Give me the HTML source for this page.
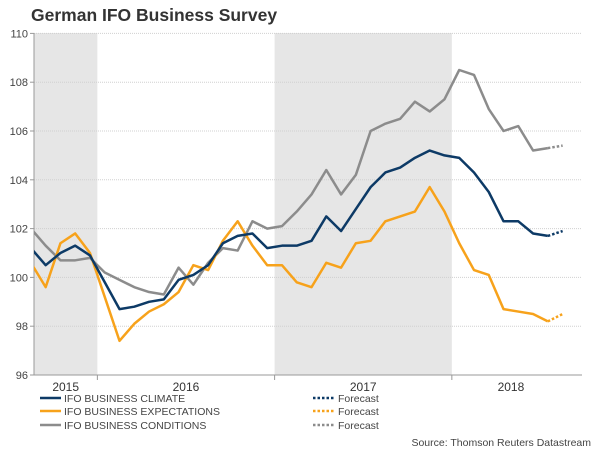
<!DOCTYPE html>
<html><head><meta charset="utf-8"><style>
body{margin:0;background:#fff;font-family:"Liberation Sans",sans-serif;}
svg{display:block}
</style></head><body>
<svg width="600" height="450" xmlns="http://www.w3.org/2000/svg" font-family="Liberation Sans, sans-serif">
<text x="31" y="21" font-size="17.5" font-weight="bold" fill="#333">German IFO Business Survey</text>
<defs><clipPath id="pc"><rect x="34" y="30" width="550" height="346"/></clipPath></defs>
<g id="bands"></g><g id="grid"></g><g id="axes"></g><g id="lines" clip-path="url(#pc)"></g>
<g font-size="10.5" fill="#333">
<line x1="40" y1="398" x2="61" y2="398" stroke="#0d3a66" stroke-width="2.5"/><text x="64" y="402" fill="#444">IFO BUSINESS CLIMATE</text>
<line x1="40" y1="411" x2="61" y2="411" stroke="#f7a21b" stroke-width="2.5"/><text x="64" y="415" fill="#444">IFO BUSINESS EXPECTATIONS</text>
<line x1="40" y1="425" x2="61" y2="425" stroke="#8c8c8c" stroke-width="2.5"/><text x="64" y="429" fill="#444">IFO BUSINESS CONDITIONS</text>
<line x1="313" y1="398" x2="335" y2="398" stroke="#0d3a66" stroke-width="2.5" stroke-dasharray="2.5,2"/><text x="338" y="402" fill="#444">Forecast</text>
<line x1="313" y1="411" x2="335" y2="411" stroke="#f7a21b" stroke-width="2.5" stroke-dasharray="2.5,2"/><text x="338" y="415" fill="#444">Forecast</text>
<line x1="313" y1="425" x2="335" y2="425" stroke="#8c8c8c" stroke-width="2.5" stroke-dasharray="2.5,2"/><text x="338" y="429" fill="#444">Forecast</text>
</g>
<text x="591" y="446" font-size="10.5" fill="#444" text-anchor="end">Source: Thomson Reuters Datastream</text>
</svg>
<script>
const climate=[101.2,100.5,101.0,101.3,100.9,99.8,98.7,98.8,99.0,99.1,99.9,100.1,100.5,101.4,101.7,101.8,101.2,101.3,101.3,101.5,102.5,101.9,102.8,103.7,104.3,104.5,104.9,105.2,105.0,104.9,104.3,103.5,102.3,102.3,101.8,101.7];
const expectations=[100.6,99.6,101.4,101.8,101.0,99.2,97.4,98.1,98.6,98.9,99.4,100.5,100.3,101.5,102.3,101.3,100.5,100.5,99.8,99.6,100.6,100.4,101.4,101.5,102.3,102.5,102.7,103.7,102.7,101.4,100.3,100.1,98.7,98.6,98.5,98.2];
const conditions=[102.0,101.3,100.7,100.7,100.8,100.2,99.9,99.6,99.4,99.3,100.4,99.7,100.6,101.2,101.1,102.3,102.0,102.1,102.7,103.4,104.4,103.4,104.2,106.0,106.3,106.5,107.2,106.8,107.3,108.5,108.3,106.9,106.0,106.2,105.2,105.3];
const forecastClimate=101.9, forecastExpectations=98.5, forecastConditions=105.4;
const years=["2015","2016","2017","2018"];
const yearStart=[0,5,17,29];
const yearEnd=[4,16,28,36];
const yTicks=[96,98,100,102,104,106,108,110];
const NS="http://www.w3.org/2000/svg";
const x=i=>30.9+i*14.77;
const y=v=>375-(v-96)*24.4;
function mk(tag,attrs,parent){const e=document.createElementNS(NS,tag);for(const k in attrs)e.setAttribute(k,attrs[k]);parent.appendChild(e);return e;}
const bands=document.getElementById('bands'),grid=document.getElementById('grid'),axes=document.getElementById('axes'),lines=document.getElementById('lines');
years.forEach((yr,k)=>{
  const x0=k==0?34:x(yearStart[k]-0.5), x1=Math.min(582,x(yearEnd[k]+0.5));
  if(k%2==0){const r=mk('rect',{x:x0,y:33,width:x1-x0,height:342,fill:'#e6e6e6'},bands);
  
  }
  const t=mk('text',{x:(x0+x1)/2,y:391,'font-size':12,fill:'#333','text-anchor':'middle'},axes);t.textContent=yr;
  
  
  if(k>0){mk('line',{x1:x0,y1:375,x2:x0,y2:380,stroke:'#999'},axes);}
});
yTicks.forEach(v=>{
  if(v>96){const g=mk('line',{x1:34,y1:y(v),x2:582,y2:y(v),stroke:'#d0d0d0','stroke-dasharray':'1,1'},grid);
  
  }
  mk('line',{x1:30,y1:y(v),x2:34,y2:y(v),stroke:'#999'},axes);
  const t=mk('text',{x:28,y:y(v)+4,'font-size':11,fill:'#444','text-anchor':'end'},axes);t.textContent=v;
  
  
});
mk('line',{x1:34,y1:33,x2:34,y2:375,stroke:'#999'},axes);
mk('line',{x1:34,y1:375,x2:582,y2:375,stroke:'#999'},axes);
function series(d,f,col,name){
  const p=mk('polyline',{points:d.map((v,i)=>x(i)+','+y(v)).join(' '),fill:'none',stroke:col,'stroke-width':2.5,'stroke-linejoin':'round'},lines);
  
  
  const n=d.length-1;
  const q=mk('line',{x1:x(n),y1:y(d[n]),x2:x(n+1),y2:y(f),stroke:col,'stroke-width':2.5,'stroke-dasharray':'2.5,2'},lines);
  
  
}
series(conditions,forecastConditions,'#8c8c8c','conditions');
series(expectations,forecastExpectations,'#f7a21b','expectations');
series(climate,forecastClimate,'#0d3a66','climate');
</script>
</body></html>
